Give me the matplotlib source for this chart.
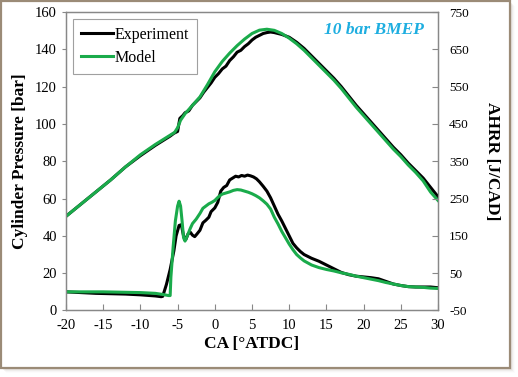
import matplotlib
matplotlib.use("Agg")
import matplotlib.pyplot as plt
from matplotlib.patches import Rectangle

# crank angle / cylinder pressure (bar)
ca_p_mod = [-20, -18, -16, -14, -12, -10, -8, -6, -5.4, -5, -4.6, -4, -3, -2, -1, 0, 1, 2, 3, 4, 5, 6,
            7, 8, 9, 10, 11, 12, 13, 14, 15, 16, 17, 18, 19, 20, 21, 22, 23, 24, 25, 26, 27, 28, 29, 30]
p_mod = [50.5, 57, 63.5, 70, 77, 83.5, 89, 94, 95.5, 98, 102, 105.5, 110, 114.5, 121, 128, 133.5, 138, 142, 145.5, 148.5, 150.3,
         150.8, 150.2, 148.5, 146, 143, 139.5, 135.5, 131.5, 127.5, 123.5, 119, 114, 109, 104.5, 100, 95.5, 91, 86.5, 82.5, 78, 74, 69.5, 63.5, 59]

ca_p_exp = [-20, -18, -16, -14, -12, -10, -8, -6, -5.5, -5, -4.7, -4.3, -4, -3.5, -3, -2.5, -2, -1.5, -1, -0.5, 0,
            0.5, 1, 1.5, 2, 2.5, 3, 3.5, 4, 4.5, 5, 5.5, 6, 6.5, 7, 7.5, 8, 9, 10, 11, 12, 13, 14, 15, 16,
            17, 18, 19, 20, 21, 22, 23, 24, 25, 26, 27, 28, 29, 30]
p_exp = [50.5, 57, 63.5, 70, 77, 83, 88.5, 93.5, 95, 96, 103, 104.5, 106, 107, 110, 112, 114, 117, 119.5, 122, 125,
         127, 129.5, 131, 134, 136, 138.5, 139.5, 141.5, 143, 145, 146.5, 147.5, 148.5, 149, 149.3, 149, 148, 146.5, 143.8, 140.5, 136.5, 132.5, 128.5, 124.5,
         120, 115, 110, 105.5, 101, 96.5, 92, 87.5, 83.5, 79, 75, 71, 66, 61]

# crank angle / apparent heat release rate (J/CAD)
ca_h_exp = [-20, -18, -16, -14, -12, -10, -8, -7.2, -7, -6.5, -6, -5.5, -5.2, -4.8, -4.5, -4.2, -3.9, -3.6, -3.3, -3,
            -2.7, -2.4, -2, -1.6, -1.2, -0.8, -0.5, 0, 0.4, 0.8, 1.2, 1.6, 2, 2.4, 2.8, 3.2, 3.6, 4, 4.4, 4.8,
            5.2, 5.6, 6, 6.5, 7, 7.5, 8, 8.5, 9, 9.5, 10, 10.5, 11, 11.5, 12, 13, 14, 15, 16, 17, 18, 19, 20,
            21, 22, 23, 24, 25, 26, 27, 28, 29, 30]
h_exp = [0, -2, -4, -5, -6, -8, -11, -13, -12, 20, 60, 110, 150, 178, 180, 150, 140, 155, 160, 152,
         148, 155, 165, 185, 192, 200, 215, 225, 240, 270, 280, 285, 300, 305, 310, 308, 312, 310, 313, 311,
         308, 303, 295, 283, 270, 252, 230, 208, 190, 170, 150, 130, 118, 108, 100, 90, 82, 72, 62, 52, 46, 42, 40,
         38, 35, 28, 21, 17, 14, 13, 13, 13, 11]

ca_h_mod = [-20, -15, -10, -8, -7, -6.2, -6, -5.9, -5.6, -5.3, -5.0, -4.8, -4.6, -4.4, -4.2, -4.0, -3.7, -3.3, -3,
            -2.5, -2, -1.6, -1.2, -0.8, -0.4, 0, 0.5, 1, 1.5, 2, 2.5, 3, 3.5, 4, 4.5, 5, 5.5, 6, 6.5, 7, 7.5,
            8, 8.5, 9, 9.5, 10, 10.5, 11, 11.5, 12, 13, 14, 15, 16, 17, 18, 19, 20, 21, 22, 23, 24, 25, 26,
            27, 28, 29, 30]
h_mod = [0, 0, -2, -4, -7, -10, -10, 40, 120, 190, 230, 243, 230, 190, 145, 136, 150, 170, 183,
         195, 210, 224, 230, 236, 240, 245, 255, 262, 265, 268, 272, 274, 273, 270, 267, 263, 258, 252, 244, 235, 222,
         200, 182, 162, 145, 128, 113, 100, 91, 83, 72, 65, 60, 56, 51, 47, 42, 38, 34, 30, 25, 21, 17, 14,
         13, 12, 10, 9]

green = "#1aab4b"
plt.rcParams['font.family'] = ['Liberation Serif', 'DejaVu Serif']
plt.rcParams['axes.unicode_minus'] = False

fig = plt.figure(figsize=(5.18, 3.77), dpi=100)

# frame with drop shadow
for i, a in enumerate([0.10, 0.07, 0.04, 0.02]):
    fig.patches.append(Rectangle((0.002 + (i + 2) / 518, 0.024 - (i + 2) / 377), 0.983, 0.973,
                                 transform=fig.transFigure, facecolor="#8a7a66", alpha=a, edgecolor="none", zorder=-3))
fig.patches.append(Rectangle((0.002, 0.024), 0.983, 0.973, transform=fig.transFigure,
                             facecolor="white", edgecolor="#9b8b77", lw=1.6, zorder=-2))

ax = fig.add_axes([0.1274, 0.1764, 0.7182, 0.7916])
ax2 = ax.twinx()

ax.plot(ca_p_exp, p_exp, color="black", lw=2.2, label="Experiment", zorder=3)
ax.plot(ca_p_mod, p_mod, color=green, lw=2.2, label="Model", zorder=4)
ax2.plot(ca_h_exp, h_exp, color="black", lw=2.2)
ax2.plot(ca_h_mod, h_mod, color=green, lw=2.2)

ax.set_xlim(-20, 30)
ax.set_ylim(0, 160)
ax2.set_ylim(-50, 750)
ax.set_xticks(range(-20, 31, 5))
ax.set_yticks(range(0, 161, 20))
ax2.set_yticks(range(-50, 751, 100))

for a in (ax, ax2):
    for s in a.spines.values():
        s.set_color("#888888")
        s.set_linewidth(0.9)
ax.tick_params(axis="x", direction="in", length=4, color="#888888", labelsize=10.5, pad=6)
ax.tick_params(axis="y", direction="out", length=3, color="#888888", labelsize=10.5)
ax2.tick_params(axis="y", direction="in", length=4, color="#888888", labelsize=9.5, pad=8)

ax.set_xlabel("CA [°ATDC]", fontsize=12.5, fontweight="bold", labelpad=3)
ax.set_ylabel("Cylinder Pressure [bar]", fontsize=12.5, fontweight="bold", labelpad=5)
ax2.set_ylabel("AHRR [J/CAD]", fontsize=12.5, fontweight="bold", rotation=270, labelpad=22)

ax.text(0.962, 0.94, "10 bar BMEP", transform=ax.transAxes, ha="right", va="center",
        fontsize=12.5, fontweight="bold", fontstyle="italic", color="#1eaee0")

leg = ax.legend(loc="upper left", bbox_to_anchor=(0.018, 0.978), borderaxespad=0, fontsize=11.5,
                fancybox=False, handlelength=2.0, handletextpad=0.1, borderpad=0.5, labelspacing=0.45)
leg.get_frame().set_edgecolor("#888888")
leg.get_frame().set_linewidth(0.8)

fig.savefig("out.png", dpi=100)
